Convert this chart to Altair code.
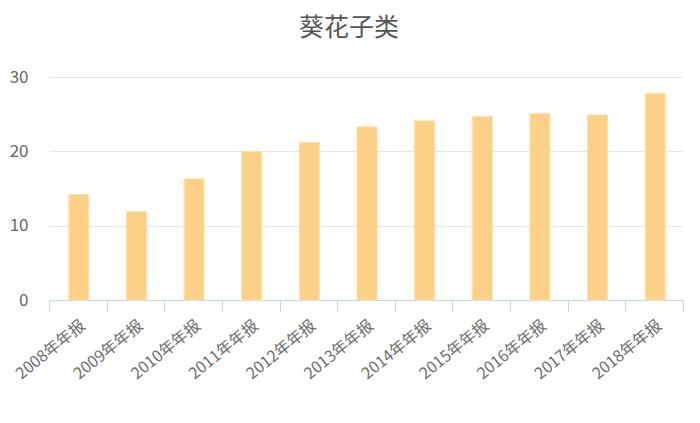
import altair as alt
import pandas as pd

categories = ["2008年年报", "2009年年报", "2010年年报", "2011年年报", "2012年年报",
              "2013年年报", "2014年年报", "2015年年报", "2016年年报", "2017年年报", "2018年年报"]
values = [14.2, 11.9, 16.3, 20.0, 21.2, 23.3, 24.1, 24.7, 25.1, 24.9, 27.8]

df = pd.DataFrame({"period": categories, "value": values})

FONT = "Noto Sans CJK SC"

chart = alt.Chart(df).mark_bar(
    size=20, color="#fcd086", stroke="#fde2ad", strokeWidth=1, xOffset=1
).encode(
    x=alt.X("period:N", sort=categories, title=None,
            scale=alt.Scale(paddingInner=0, paddingOuter=0),
            axis=alt.Axis(labelAngle=-39, labelAlign="right", labelBaseline="middle",
                          labelFont=FONT, labelFontSize=16, labelColor="#6e6e6e",
                          labelPadding=11, labelOffset=5, tickBand="extent", tickSize=12,
                          tickColor="#c9d5ec", domainColor="#c9d5ec", grid=False,
                          labelOverlap=False, labelBound=False)),
    y=alt.Y("value:Q", title=None,
            scale=alt.Scale(domain=[0, 30], nice=False),
            axis=alt.Axis(values=[0, 10, 20, 30], domain=False, ticks=False,
                          labelFont=FONT, labelFontSize=17, labelColor="#666666",
                          labelPadding=21, gridColor="#e6e6e6", gridWidth=1)),
).properties(
    width=634, height=223,
    title=alt.TitleParams("葵花子类", font=FONT, fontSize=25, fontWeight="normal",
                          color="#555555", anchor="middle", offset=27, dx=-17),
    autosize=alt.AutoSizeParams(type="none"),
    padding={"left": 41, "top": 69, "right": 9, "bottom": 100},
).configure_view(stroke=None)

chart.save("out.html", embed_options={"renderer": "svg", "actions": False})
